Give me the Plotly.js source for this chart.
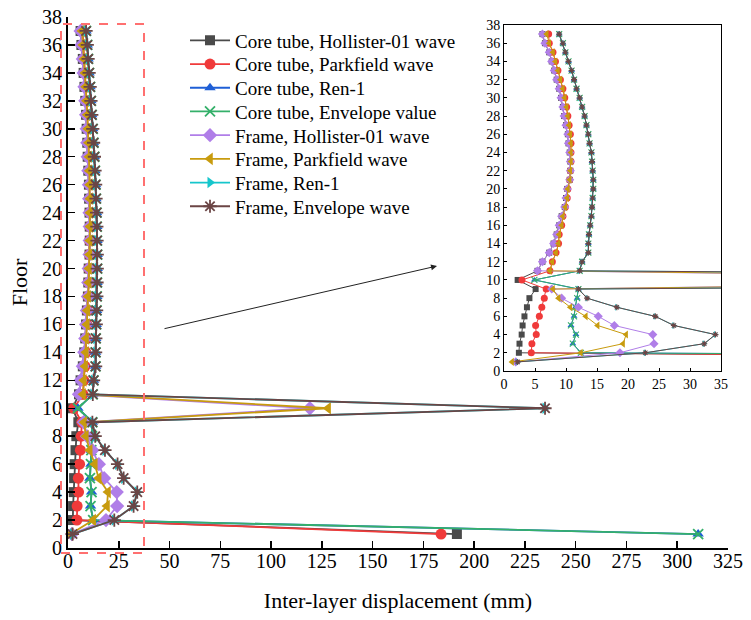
<!DOCTYPE html>
<html>
<head>
<meta charset="utf-8">
<script src="https://cdn.plot.ly/plotly-3.0.1.min.js"></script>
<style>html,body{margin:0;padding:0;background:#fff;}#chart{width:751px;height:620px;}</style>
</head>
<body>
<div id="chart"></div>
<script>
// Floors 1..37
var floors = [];
for (var i = 1; i <= 37; i++) floors.push(i);

var seriesNames = [
  'Core tube, Hollister-01 wave',
  'Core tube, Parkfield wave',
  'Core tube, Ren-1',
  'Core tube, Envelope value',
  'Frame, Hollister-01 wave',
  'Frame, Parkfield wave',
  'Frame, Ren-1',
  'Frame, Envelope wave'
];

var coreHollister = [191.5, 2.4, 2.5, 2.85, 3.0, 3.3, 3.7, 4.1, 5.1, 2.2,
  5.4, 6.2, 7.3, 8.0, 8.5, 8.9, 9.3, 9.8, 10.0, 10.2, 10.6, 10.7, 10.7, 10.6,
  10.4, 10.3, 10.0, 9.7, 9.5, 9.2, 8.9, 8.5, 8.1, 7.7, 7.3, 6.6, 6.2];
var coreParkfield = [183.7, 4.4, 4.5, 5.2, 5.1, 5.7, 6.1, 6.5, 6.8, 2.9,
  7.4, 7.8, 8.4, 8.8, 8.9, 9.3, 9.5, 9.9, 10.2, 10.3, 10.6, 10.7, 10.8, 10.8,
  10.8, 10.7, 10.5, 10.3, 10.1, 9.8, 9.5, 9.1, 8.7, 8.3, 7.9, 7.3, 7.2];
var coreRen1 = [310.3, 12.4, 11.1, 11.6, 10.8, 11.3, 11.5, 11.8, 12.0, 4.9,
  12.2, 12.6, 13.6, 13.6, 13.7, 13.9, 14.1, 14.2, 14.3, 14.4, 14.4, 14.3, 14.2, 14.1,
  13.8, 13.6, 13.3, 13.0, 12.6, 12.2, 11.7, 11.3, 10.9, 10.4, 9.9, 9.5, 8.9];
var coreEnvelope = [310.3, 12.4, 11.1, 11.6, 10.8, 11.3, 11.5, 11.8, 12.0, 4.9,
  12.2, 12.6, 13.6, 13.6, 13.7, 13.9, 14.1, 14.2, 14.3, 14.4, 14.4, 14.3, 14.2, 14.1,
  13.8, 13.6, 13.3, 13.0, 12.6, 12.2, 11.7, 11.3, 10.9, 10.4, 9.9, 9.5, 8.9];
var frameHollister = [1.9, 18.7, 24.2, 24.0, 17.8, 15.2, 12.0, 9.3, 7.7, 119.1,
  5.4, 6.2, 7.3, 8.0, 8.5, 8.9, 9.3, 9.8, 10.0, 10.2, 10.6, 10.7, 10.7, 10.6,
  10.4, 10.3, 10.0, 9.7, 9.5, 9.2, 8.9, 8.5, 8.1, 7.7, 7.3, 6.6, 6.2];
var frameParkfield = [1.3, 12.4, 19.2, 19.7, 15.1, 13.2, 10.7, 8.8, 7.9, 128.1,
  7.4, 7.8, 8.4, 8.8, 8.9, 9.3, 9.5, 9.9, 10.2, 10.3, 10.6, 10.7, 10.8, 10.8,
  10.8, 10.7, 10.5, 10.3, 10.1, 9.8, 9.5, 9.1, 8.7, 8.3, 7.9, 7.3, 6.9];
var frameRen1 = [2.2, 22.8, 32.3, 34.1, 27.4, 24.4, 18.2, 13.4, 12.0, 234.9,
  12.2, 12.6, 13.6, 13.6, 13.7, 13.9, 14.1, 14.2, 14.3, 14.4, 14.4, 14.3, 14.2, 14.1,
  13.8, 13.6, 13.3, 13.0, 12.6, 12.2, 11.7, 11.3, 10.9, 10.4, 9.9, 9.5, 8.9];
var frameEnvelope = [2.2, 22.8, 32.3, 34.1, 27.4, 24.4, 18.2, 13.4, 12.0, 234.9,
  12.2, 12.6, 13.6, 13.6, 13.7, 13.9, 14.1, 14.2, 14.3, 14.4, 14.4, 14.3, 14.2, 14.1,
  13.8, 13.6, 13.3, 13.0, 12.6, 12.2, 11.7, 11.3, 10.9, 10.4, 9.9, 9.5, 8.9];

var xTickVals = [0, 25, 50, 75, 100, 125, 150, 175, 200, 225, 250, 275, 300, 325];
var yTickVals = [0, 2, 4, 6, 8, 10, 12, 14, 16, 18, 20, 22, 24, 26, 28, 30, 32, 34, 36, 38];
var insetXTickVals = [0, 5, 10, 15, 20, 25, 30, 35];

var allSeries = [coreHollister, coreParkfield, coreRen1, coreEnvelope,
  frameHollister, frameParkfield, frameRen1, frameEnvelope];
var colors = ['#4a4a4a', '#f03a3a', '#1f5fd6', '#34b06a', '#b07ee8', '#c89b0e', '#16c6cc', '#6b4545'];
var symbols = ['square', 'circle', 'triangle-up', 'x-thin-open', 'diamond', 'triangle-left', 'triangle-right', 'asterisk-open'];
var mainSizes = [10, 11, 10, 10, 11, 11, 10, 11];
var insetSizes = [6, 7, 6, 6, 7, 7, 6, 5];

var FONT = 'Liberation Serif, Times New Roman, serif';
var W = 660, H = 531, L = 68, T = 17;
function px(x) { return (x - L) / W; }
function py(y) { return (T + H - y) / H; }

var traces = [];
for (var k = 0; k < allSeries.length; k++) {
  var isLine = (symbols[k].indexOf('open') >= 0);
  traces.push({
    type: 'scatter', mode: 'lines+markers', name: seriesNames[k],
    legend: k === 0 ? 'legend' : 'legend' + (k + 1),
    x: allSeries[k], y: floors, xaxis: 'x', yaxis: 'y',
    cliponaxis: false,
    line: {color: colors[k], width: 1.8},
    marker: {symbol: symbols[k], size: mainSizes[k], color: colors[k],
      line: {color: colors[k], width: isLine ? 1.8 : 0}}
  });
}
for (var k = 0; k < allSeries.length; k++) {
  var isLine2 = (symbols[k].indexOf('open') >= 0);
  traces.push({
    type: 'scatter', mode: 'lines+markers', name: seriesNames[k], showlegend: false,
    x: allSeries[k], y: floors, xaxis: 'x2', yaxis: 'y2',
    line: {color: colors[k], width: 1},
    marker: {symbol: symbols[k], size: insetSizes[k], color: colors[k],
      line: {color: colors[k], width: isLine2 ? 1.1 : 0}}
  });
}

var layout = {
  width: 751, height: 620,
  margin: {l: L, r: 751 - L - W, t: T, b: 620 - T - H},
  paper_bgcolor: '#fff', plot_bgcolor: 'rgba(0,0,0,0)',
  font: {family: FONT, color: '#000', size: 20},
  showlegend: true,
  xaxis: {domain: [0, 1], range: [0, 325], tickvals: xTickVals,
    ticks: 'inside', ticklen: 7, tickwidth: 1.5, tickcolor: '#000',
    showline: true, linewidth: 2, linecolor: '#000', showgrid: false, zeroline: false,
    ticklabelstandoff: -6,
    tickfont: {family: FONT, size: 20, color: '#000'},
    title: {text: 'Inter-layer displacement (mm)', font: {family: FONT, size: 22, color: '#000'}, standoff: 22},
    anchor: 'y'},
  yaxis: {domain: [0, 1], range: [0, 38], tickvals: yTickVals,
    ticks: 'inside', ticklen: 7, tickwidth: 1.5, tickcolor: '#000',
    showline: true, linewidth: 2, linecolor: '#000', showgrid: false, zeroline: false,
    tickfont: {family: FONT, size: 20, color: '#000'},
    title: {text: 'Floor', font: {family: FONT, size: 22, color: '#000'}, standoff: 8},
    anchor: 'x'},
  xaxis2: {domain: [px(504), px(721)], range: [0, 35], tickvals: insetXTickVals,
    anchor: 'y2', ticks: 'inside', ticklen: 3, tickwidth: 1, tickcolor: '#000',
    showline: true, mirror: true, linewidth: 1, linecolor: '#000', showgrid: false, zeroline: false,
    tickfont: {family: FONT, size: 14, color: '#000'}},
  yaxis2: {domain: [py(371), py(25)], range: [0, 38], tickvals: yTickVals,
    anchor: 'x2', ticks: 'inside', ticklen: 3, tickwidth: 1, tickcolor: '#000',
    showline: true, mirror: true, linewidth: 1, linecolor: '#000', showgrid: false, zeroline: false,
    tickfont: {family: FONT, size: 14, color: '#000'}},
  shapes: [{type: 'rect', xref: 'paper', yref: 'paper',
    x0: px(61), x1: px(144), y0: py(553), y1: py(24),
    line: {color: '#ff7070', width: 2, dash: 'dash'}, layer: 'above'}],
  annotations: [{xref: 'paper', yref: 'paper', x: px(437), y: py(266),
    ax: 163 - 437, ay: 329 - 266, axref: 'pixel', ayref: 'pixel',
    text: '', showarrow: true, arrowhead: 2, arrowsize: 1.2, arrowwidth: 1, arrowcolor: '#222'}]
};

// one legend box per entry so the entries can sit as close as in the reference
for (var k = 0; k < allSeries.length; k++) {
  var key = k === 0 ? 'legend' : 'legend' + (k + 1);
  layout[key] = {x: px(185), y: py(40.5 + k * 23.7), xanchor: 'left', yanchor: 'middle',
    bgcolor: 'rgba(0,0,0,0)', borderwidth: 0,
    font: {family: FONT, size: 19, color: '#000'}, itemwidth: 40};
}

Plotly.newPlot('chart', traces, layout, {displayModeBar: false, staticPlot: true});
</script>
</body>
</html>
